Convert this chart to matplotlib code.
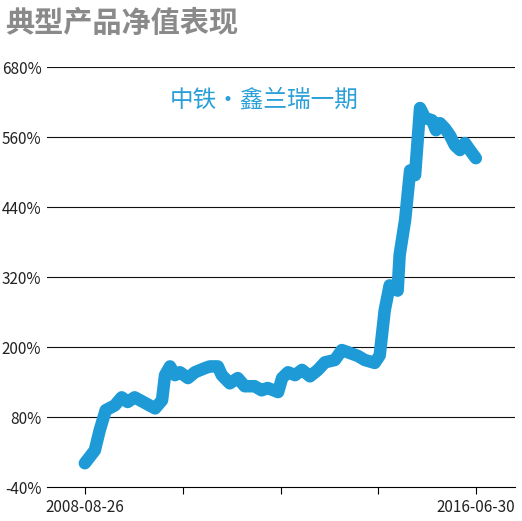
import matplotlib
matplotlib.use("Agg")
import matplotlib.pyplot as plt

plt.rcParams['font.family'] = ['Liberation Sans Narrow', 'Noto Sans CJK SC', 'DejaVu Sans']

years = [2008.65, 2008.85, 2008.95, 2009.07, 2009.25, 2009.39, 2009.51, 2009.65, 2010.06, 2010.20,
         2010.26, 2010.36, 2010.46, 2010.56, 2010.72, 2010.86, 2011.06, 2011.16, 2011.32, 2011.40,
         2011.56, 2011.72, 2011.86, 2012.06, 2012.20, 2012.32, 2012.53, 2012.61, 2012.73, 2012.87,
         2013.01, 2013.17, 2013.33, 2013.47, 2013.67, 2013.81, 2013.97, 2014.13, 2014.27, 2014.47,
         2014.57, 2014.67, 2014.77, 2014.93, 2014.97, 2015.08, 2015.18, 2015.28, 2015.38, 2015.48,
         2015.62, 2015.70, 2015.78, 2015.88, 2015.98, 2016.08, 2016.18, 2016.28, 2016.38, 2016.50]
values = [1, 23, 58, 92, 100, 114, 106, 114, 95, 109,
          152, 167, 152, 157, 147, 157, 164, 167, 167, 152,
          138, 147, 133, 133, 126, 130, 123, 147, 157, 152,
          161, 150, 161, 174, 178, 195, 190, 185, 178, 173,
          186, 263, 306, 297, 358, 418, 503, 495, 610, 593,
          589, 572, 584, 575, 563, 546, 538, 550, 538, 524]
yticks = [-40, 80, 200, 320, 440, 560, 680]
xlabel_pos = [2008.65, 2016.50]
xlabels = ["2008-08-26", "2016-06-30"]
minor_pos = [2010.62, 2012.59, 2014.53]
series_name = "中铁・鑫兰瑞一期"
title = "典型产品净值表现"

fig = plt.figure(figsize=(5.22, 5.21), dpi=100)
ax = fig.add_axes([0.09, 0.065, 0.896, 0.806])
ax.plot(years, values, color='#1e9bd7', lw=9, solid_joinstyle='round', solid_capstyle='round')
ax.set_ylim(-40, 680)
ax.set_xlim(2007.89, 2017.28)
ax.set_yticks(yticks)
ax.set_yticklabels([f"{v}%" for v in yticks], fontsize=11, color='#222')
for v in yticks[1:]:
    ax.axhline(v, color='#111', lw=0.8, zorder=0)
ax.tick_params(axis='y', length=0, pad=4)
ax.set_xticks(xlabel_pos + minor_pos)
ax.set_xticklabels(xlabels + ["", "", ""], fontsize=11, color='#222')
ax.tick_params(axis='x', length=5, direction='out', width=0.8)
for s in ['top', 'right', 'left']:
    ax.spines[s].set_visible(False)
ax.spines['bottom'].set_linewidth(0.8)
ax.text(2010.35, 643, series_name, fontsize=17, color='#2a9fd8', va='top',
        family=['Noto Sans CJK SC', 'DejaVu Sans'])
fig.text(0.01, 0.955, title, fontsize=21, fontweight='bold', color='#8a8a8a', va='center',
         family=['Noto Sans CJK SC', 'DejaVu Sans'])
fig.savefig("out.png", dpi=100)
